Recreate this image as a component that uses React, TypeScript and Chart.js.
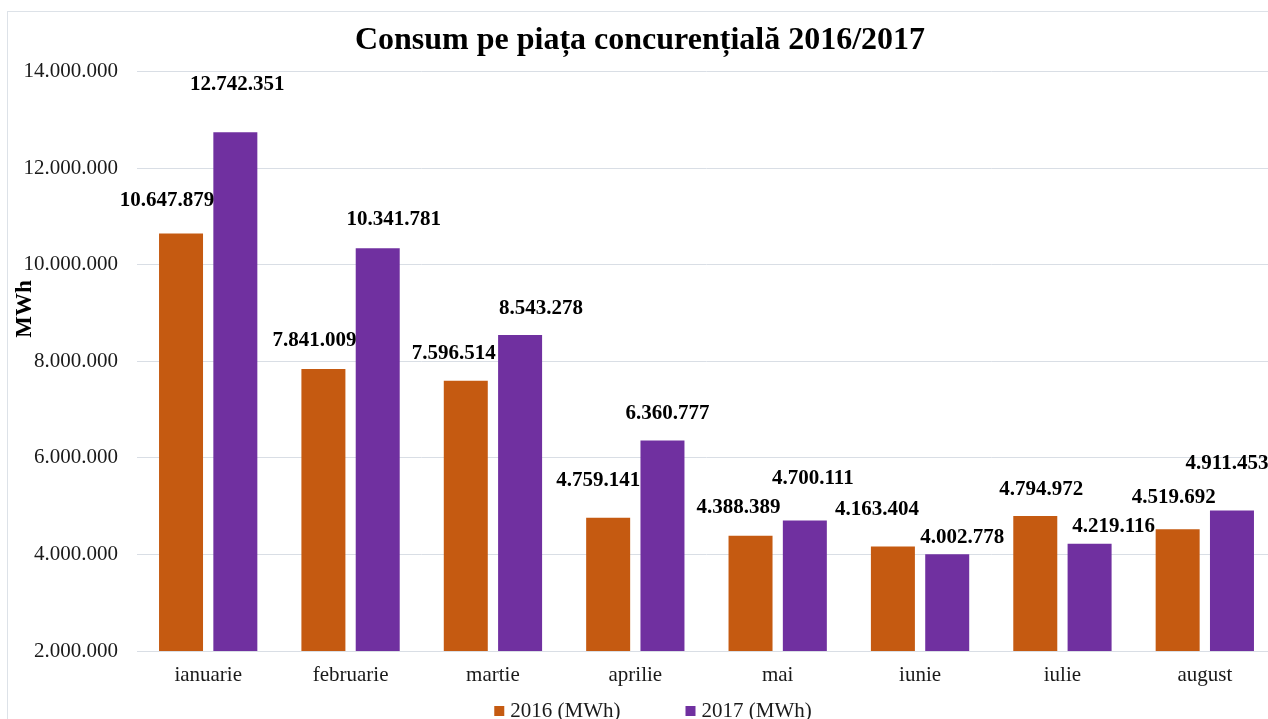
import React, { useEffect, useRef } from "react";
import { Chart, registerables } from "chart.js";

Chart.register(...registerables);

const categories = ["ianuarie", "februarie", "martie", "aprilie", "mai", "iunie", "iulie", "august"];
const values2016 = [10647879, 7841009, 7596514, 4759141, 4388389, 4163404, 4794972, 4519692];
const values2017 = [12742351, 10341781, 8543278, 6360777, 4700111, 4002778, 4219116, 4911453];
const seriesLabels = ["2016 (MWh)", "2017 (MWh)"];
const chartTitle = "Consum pe piața concurențială 2016/2017";
const yAxisTitle = "MWh";
const yMin = 2000000;
const yMax = 14000000;
const yStep = 2000000;

// manual data-label offsets (dx, dy) from each bar's top centre, as placed in the original
const labelOffsets2016 = [[-14, -33], [-9, -28], [-12, -27], [-10, -37], [-12, -28], [-16, -37], [6, -26], [-4, -32]];
const labelOffsets2017 = [[2, -48], [16, -29], [21, -26], [5, -27], [8, -42], [15, -17], [24, -17], [-5, -47]];

const COLOR_2016 = "#C55A11";
const COLOR_2017 = "#7030A0";
const GRID = "#d9dee5";
const FONT = "'Liberation Serif', 'Times New Roman', serif";

const fmt = (n: number) => Math.round(n).toString().replace(/\B(?=(\d{3})+(?!\d))/g, ".");

const CW = 1290;
const CH = 730;

export default function App() {
  const ref = useRef<HTMLCanvasElement | null>(null);

  useEffect(() => {
    if (!ref.current) return;
    const offsets = [labelOffsets2016, labelOffsets2017];

    const overlay = {
      id: "overlay",
      afterDatasetsDraw(chart: any) {
        const ctx = chart.ctx;
        ctx.save();
        ctx.font = `bold 21px ${FONT}`;
        ctx.fillStyle = "#000";
        ctx.textAlign = "center";
        ctx.textBaseline = "middle";
        chart.data.datasets.forEach((ds: any, di: number) => {
          const meta = chart.getDatasetMeta(di);
          meta.data.forEach((el: any, i: number) => {
            const [dx, dy] = offsets[di][i];
            ctx.fillText(fmt(ds.data[i]), el.x + dx, el.y + dy);
          });
        });
        ctx.restore();
      },
      afterDraw(chart: any) {
        const ctx = chart.ctx;
        ctx.save();
        // title
        ctx.font = `bold 32px ${FONT}`;
        ctx.fillStyle = "#000";
        ctx.textAlign = "center";
        ctx.textBaseline = "middle";
        ctx.fillText(chartTitle, 632, 29);
        // y axis title
        ctx.save();
        ctx.translate(17, 297);
        ctx.rotate(-Math.PI / 2);
        ctx.font = `bold 23px ${FONT}`;
        ctx.fillText(yAxisTitle, 0, 0);
        ctx.restore();
        // legend
        ctx.font = `21px ${FONT}`;
        ctx.textAlign = "left";
        const box = 10;
        const gap = 6;
        const spacing = 65;
        const widths = chart.data.datasets.map((d: any) => ctx.measureText(d.label).width);
        let total = 0;
        widths.forEach((w: number, i: number) => {
          total += box + gap + w + (i < widths.length - 1 ? spacing : 0);
        });
        let x = CW / 2 - total / 2;
        const cy = 699;
        chart.data.datasets.forEach((d: any, i: number) => {
          ctx.fillStyle = d.backgroundColor;
          ctx.fillRect(x, cy - box / 2, box, box);
          ctx.fillStyle = "#1a1a1a";
          ctx.fillText(d.label, x + box + gap, cy);
          x += box + gap + widths[i] + spacing;
        });
        ctx.restore();
      },
    };

    const chart = new Chart(ref.current, {
      type: "bar",
      data: {
        labels: categories,
        datasets: [
          { label: seriesLabels[0], data: values2016, backgroundColor: COLOR_2016 },
          { label: seriesLabels[1], data: values2017, backgroundColor: COLOR_2017 },
        ],
      },
      options: {
        responsive: false,
        animation: false,
        devicePixelRatio: 1,
        layout: { padding: { top: 59.5, left: 0, right: 22, bottom: 51 } },
        datasets: { bar: { categoryPercentage: 0.763, barPercentage: 0.81 } },
        plugins: {
          legend: { display: false },
          title: { display: false },
          tooltip: { enabled: false },
        },
        scales: {
          x: {
            grid: { display: false, drawTicks: false },
            border: { display: true, color: GRID, width: 1 },
            ticks: { font: { family: FONT, size: 21 }, color: "#1a1a1a", padding: 12 },
            afterFit: (s: any) => { s.height = 40; },
          },
          y: {
            min: yMin,
            max: yMax,
            grid: { color: GRID, lineWidth: 1, drawTicks: false },
            border: { display: false },
            ticks: {
              stepSize: yStep,
              font: { family: FONT, size: 21 },
              color: "#1a1a1a",
              padding: 19,
              callback: (v: any) => fmt(Number(v)),
            },
            afterFit: (s: any) => { s.width = 129; },
          },
        },
      },
      plugins: [overlay],
    });
    return () => chart.destroy();
  }, []);

  return (
    <div style={{ position: "fixed", left: 0, top: 0, width: 1268, height: 719, overflow: "hidden", background: "#fff" }}>
      <div
        style={{
          position: "absolute",
          left: 7,
          top: 11,
          width: 1330,
          height: 760,
          border: "1px solid #dde2e8",
          boxSizing: "border-box",
        }}
      />
      <div style={{ position: "absolute", left: 8, top: 12, width: CW, height: CH }}>
        <canvas ref={ref} width={CW} height={CH} style={{ width: CW, height: CH, display: "block" }} />
      </div>
    </div>
  );
}
